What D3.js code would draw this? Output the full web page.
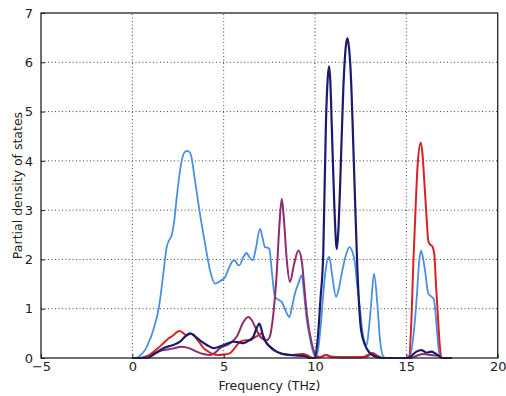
<!DOCTYPE html>
<html><head><meta charset="utf-8">
<script src="https://cdn.jsdelivr.net/npm/d3@7"></script>
<style>body{margin:0;background:#fff;} svg{display:block;}</style>
</head><body>
<svg id="c" width="506" height="396"></svg>
<script>
const xTicks = [-5, 0, 5, 10, 15, 20];
const yTicks = [0, 1, 2, 3, 4, 5, 6, 7];
const xLabel = "Frequency (THz)";
const yLabel = "Partial density of states";

const seriesNames = ["blue", "purple", "red", "navy"];
const seriesColors = ["#4a90e2", "#8c2d6e", "#d62328", "#1b1b6e"];

const blueF = [0,0.2,0.45,0.69,0.9,1.15,1.46,1.7,1.88,2.0,2.16,2.3,2.43,2.7,2.85,2.98,3.1,3.21,3.43,3.7,3.98,4.25,4.53,4.8,5.07,5.35,5.5,5.62,5.75,5.86,6.08,6.26,6.4,6.59,6.75,6.99,7.12,7.26,7.4,7.5,7.65,7.81,8.0,8.18,8.4,8.59,8.75,8.9,9.1,9.27,9.4,9.55,9.7,9.82,10.0,10.1,10.3,10.5,10.65,10.78,10.95,11.15,11.3,11.46,11.7,11.88,12.05,12.19,12.3,12.43,12.64,12.83,12.95,13.06,13.23,13.41,13.56,13.74,13.9,15.0,15.2,15.4,15.57,15.7,15.8,15.9,16.02,16.2,16.39,16.5,16.6,16.7,16.8,17.0,17.5];
const blueV = [0,0,0.06,0.16,0.32,0.57,1.04,1.72,2.25,2.38,2.5,2.8,3.26,4.0,4.17,4.2,4.19,4.12,3.6,2.93,2.32,1.78,1.51,1.56,1.64,1.88,1.97,1.98,1.9,1.88,2.05,2.13,2.05,1.98,2.2,2.62,2.45,2.25,2.24,2.21,1.7,1.24,1.18,1.14,0.95,0.83,1.05,1.31,1.52,1.68,1.3,0.77,0.45,0.23,0.03,0.05,0.6,1.5,1.95,2.05,1.65,1.24,1.4,1.71,2.1,2.25,2.15,1.92,1.5,1.1,0.43,0.26,0.6,1.04,1.71,1.1,0.36,0.03,0,0,0.05,0.5,1.24,1.95,2.18,2.05,1.78,1.31,1.24,1.2,0.9,0.45,0.1,0,0];

const purpleF = [0,0.4,0.9,1.3,1.7,2.2,2.7,3.1,3.52,3.9,4.25,4.5,4.8,5.35,5.71,6.08,6.35,6.55,6.72,7.08,7.36,7.54,7.63,7.72,7.9,8.05,8.18,8.3,8.45,8.63,8.85,9.09,9.27,9.4,9.55,9.82,10.09,10.3,10.6,10.9,12.5,12.9,13.15,13.4,13.7,15.2,15.6,15.9,16.3,16.7,17.0,17.5];
const purpleV = [0,0,0.05,0.11,0.16,0.19,0.23,0.2,0.13,0.08,0.06,0.1,0.2,0.3,0.43,0.73,0.83,0.76,0.63,0.4,0.36,0.45,0.63,0.9,1.7,2.7,3.23,2.8,2.0,1.54,1.9,2.18,1.98,1.5,0.9,0.3,0.03,0.02,0.06,0.02,0.01,0.06,0.1,0.05,0,0,0.05,0.08,0.06,0.05,0,0];

const redF = [0,0.6,1.0,1.4,1.7,2.0,2.24,2.45,2.61,2.8,2.98,3.15,3.34,3.5,3.7,3.9,4.16,4.4,4.71,5.0,5.35,5.6,5.9,6.2,6.44,6.7,6.9,7.08,7.2,7.36,7.6,7.9,8.2,8.63,9.0,9.36,9.6,9.9,10.3,10.6,10.9,11.5,12.8,13.1,13.4,13.6,15.0,15.15,15.28,15.38,15.5,15.62,15.79,15.88,15.98,16.1,16.2,16.3,16.39,16.53,16.62,16.72,16.82,16.95,17.5];
const redV = [0,0,0.08,0.2,0.3,0.4,0.46,0.53,0.55,0.5,0.46,0.49,0.48,0.4,0.3,0.2,0.13,0.08,0.06,0.07,0.1,0.2,0.33,0.36,0.36,0.42,0.46,0.5,0.42,0.3,0.2,0.13,0.08,0.06,0.07,0.08,0.05,0,0.02,0.06,0.03,0.01,0.02,0.08,0.03,0,0,0.02,0.8,1.91,3.0,3.93,4.37,4.15,3.6,2.9,2.38,2.3,2.28,2.11,1.5,0.9,0.3,0,0];

const navyF = [0,0.8,1.2,1.7,2.2,2.61,2.9,3.16,3.4,3.7,4.1,4.43,4.7,4.98,5.25,5.53,5.8,6.08,6.35,6.62,6.8,6.95,7.05,7.17,7.35,7.54,7.8,8.08,8.5,9.0,9.4,9.72,9.95,10.15,10.3,10.45,10.6,10.7,10.77,10.84,10.91,11.06,11.19,11.28,11.37,11.55,11.68,11.77,11.86,11.95,12.14,12.32,12.52,12.74,13.0,13.3,13.6,15.1,15.3,15.55,15.84,15.98,16.11,16.25,16.39,16.55,16.75,16.95,17.5];
const navyV = [0,0,0.08,0.2,0.26,0.33,0.44,0.5,0.45,0.36,0.26,0.2,0.22,0.26,0.3,0.33,0.32,0.3,0.35,0.43,0.6,0.7,0.6,0.43,0.3,0.23,0.15,0.1,0.07,0.05,0.04,0,0,0.4,1.2,2.11,4.8,5.7,5.92,5.6,4.8,3.06,2.21,2.6,3.46,5.48,6.3,6.49,6.3,5.82,3.8,1.78,0.57,0.26,0.1,0.03,0,0,0.05,0.13,0.16,0.13,0.11,0.12,0.13,0.1,0.05,0,0];

const seriesF = [blueF, purpleF, redF, navyF];
const seriesV = [blueV, purpleV, redV, navyV];
const seriesWidth = [1.8, 2, 2, 2.2];

const W = 506, H = 396;
const m = {left: 41, right: 8.3, top: 13, bottom: 38};
const svg = d3.select("#c");
const x = d3.scaleLinear().domain([-5, 20]).range([m.left, W - m.right]);
const y = d3.scaleLinear().domain([0, 7]).range([H - m.bottom, m.top]);

// grid
const grid = svg.append("g").attr("stroke", "#444").attr("stroke-width", 1).attr("stroke-dasharray", "1,2.5");
grid.selectAll(".gx").data(xTicks.slice(1, -1)).join("line")
  .attr("x1", d => x(d)).attr("x2", d => x(d)).attr("y1", y(0)).attr("y2", y(7));
grid.selectAll(".gy").data(yTicks.slice(1, -1)).join("line")
  .attr("y1", d => y(d)).attr("y2", d => y(d)).attr("x1", x(-5)).attr("x2", x(20));

// series
const line = d3.line().curve(d3.curveMonotoneX).x(d => x(d[0])).y(d => y(d[1]));
seriesNames.forEach((n, i) => {
  const pts = seriesF[i].map((f, j) => [f, seriesV[i][j]]);
  svg.append("path").datum(pts).attr("d", line).attr("fill", "none")
    .attr("stroke", seriesColors[i]).attr("stroke-width", seriesWidth[i])
    .attr("stroke-linejoin", "round");
});

// frame
svg.append("rect").attr("x", x(-5)).attr("y", y(7)).attr("width", x(20) - x(-5)).attr("height", y(0) - y(7))
  .attr("fill", "none").attr("stroke", "#222").attr("stroke-width", 1.3);

// axes with inward ticks
const xa = d3.axisBottom(x).tickValues(xTicks).tickSize(-4).tickPadding(4).tickFormat(d => d < 0 ? "\u2212" + Math.abs(d) : String(d));
const gx = svg.append("g").attr("transform", `translate(0,${y(0)})`).call(xa);
const ya = d3.axisLeft(y).tickValues(yTicks).tickSize(-4).tickPadding(8).tickFormat(d => String(d));
const gy = svg.append("g").attr("transform", `translate(${x(-5)},0)`).call(ya);
[gx, gy].forEach(g => {
  g.select(".domain").remove();
  g.selectAll("text").attr("font-family", "DejaVu Sans, sans-serif").attr("font-size", 13).attr("fill", "#222");
  g.selectAll("line").attr("stroke", "#222");
});

svg.append("text").attr("x", (x(-5) + x(20)) / 2).attr("y", 390).attr("text-anchor", "middle")
  .attr("font-family", "DejaVu Sans, sans-serif").attr("font-size", 12.5).attr("fill", "#222").text(xLabel);
svg.append("text").attr("transform", `translate(22,${(y(0) + y(7)) / 2}) rotate(-90)`).attr("text-anchor", "middle")
  .attr("font-family", "DejaVu Sans, sans-serif").attr("font-size", 12.5).attr("fill", "#222").text(yLabel);
</script>
</body></html>
